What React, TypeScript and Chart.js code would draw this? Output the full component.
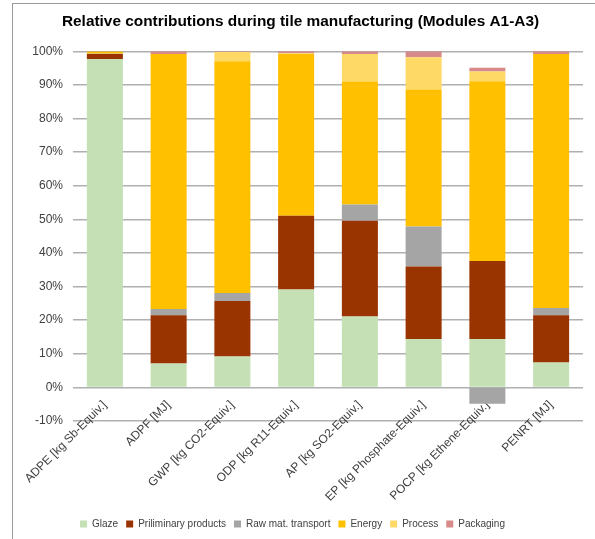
import React, { useEffect, useRef } from "react";
import { Chart, registerables } from "chart.js";

Chart.register(...registerables);

const categories = [
  "ADPE [kg Sb-Equiv.]",
  "ADPF [MJ]",
  "GWP [kg CO2-Equiv.]",
  "ODP [kg R11-Equiv.]",
  "AP [kg SO2-Equiv.]",
  "EP [kg Phosphate-Equiv.]",
  "POCP [kg Ethene-Equiv.]",
  "PENRT [MJ]",
];

const glaze = [97.7, 7.1, 9.2, 29.1, 21.1, 14.4, 14.4, 7.4];
const preliminary = [1.5, 14.4, 16.5, 22.0, 28.5, 21.6, 23.2, 14.1];
const rawTransport = [0.1, 1.8, 2.4, 0, 4.8, 11.9, -4.9, 2.1];
const energy = [0.6, 75.9, 68.9, 48.1, 36.6, 40.7, 53.5, 75.6];
const processShare = [0, 0, 2.8, 0.2, 8.2, 9.6, 2.9, 0];
const packaging = [0.1, 0.8, 0.2, 0.6, 0.8, 1.8, 1.1, 0.8];

const yTicks = [-10, 0, 10, 20, 30, 40, 50, 60, 70, 80, 90, 100];

const FONT = "'Liberation Sans', Arial, sans-serif";

const layoutTweaks = {
  id: "layoutTweaks",
  afterLayout(c: any) {
    if (c.legend) {
      c.legend.left -= 8;
      c.legend.right -= 8;
    }
  },
  beforeDraw(c: any) {
    if (c.scales && c.scales.x) c.scales.x._computeLabelArea = () => undefined;
  },
};

export default function App() {
  const ref = useRef<HTMLCanvasElement | null>(null);

  useEffect(() => {
    if (!ref.current) return;
    const mk = (label: string, data: number[], color: string) => ({
      label,
      data,
      backgroundColor: color,
      borderWidth: 0,
      categoryPercentage: 1,
      barPercentage: 0.565,
    });
    const chart = new Chart(ref.current, {
      type: "bar",
      data: {
        labels: categories,
        datasets: [
          mk("Glaze", glaze, "#C5E0B4"),
          mk("Priliminary products", preliminary, "#993300"),
          mk("Raw mat. transport", rawTransport, "#A5A5A5"),
          mk("Energy", energy, "#FFC000"),
          mk("Process", processShare, "#FFD966"),
          mk("Packaging", packaging, "#D78A89"),
        ],
      },
      plugins: [layoutTweaks],
      options: {
        animation: false,
        responsive: false,
        maintainAspectRatio: false,
        layout: { padding: { left: 18, right: 12, top: 0, bottom: 0 } },
        plugins: {
          title: {
            display: true,
            text: "Relative contributions during tile manufacturing (Modules A1-A3)",
            color: "#000000",
            font: { family: FONT, size: 15.4, weight: "bold" },
            padding: { top: 12.5, bottom: 20.3 },
          },
          legend: {
            position: "bottom",
            labels: {
              boxWidth: 7,
              boxHeight: 7,
              padding: 8,
              color: "#404040",
              font: { family: FONT, size: 10 },
            },
          },
          tooltip: { enabled: false },
        },
        scales: {
          x: {
            stacked: true,
            grid: { display: false },
            border: { display: false },
            ticks: {
              minRotation: 45,
              maxRotation: 45,
              autoSkip: false,
              padding: -31,
              color: "#404040",
              font: { family: FONT, size: 12 },
            },
            afterFit: (s: any) => {
              s.height = 90;
            },
          },
          y: {
            stacked: true,
            min: yTicks[0],
            max: yTicks[yTicks.length - 1],
            afterBuildTicks: (s: any) => {
              s.ticks = yTicks.map((v) => ({ value: v }));
            },
            grid: { color: "#B0B0B0", lineWidth: 1.4, drawTicks: false },
            border: { display: false },
            ticks: {
              padding: 10,
              color: "#404040",
              font: { family: FONT, size: 12 },
              callback: (v: any) => v + "%",
            },
            afterFit: (s: any) => {
              s.width = 55;
            },
          },
        },
      },
    });
    return () => chart.destroy();
  }, []);

  return (
    <div style={{ position: "fixed", left: 0, top: 0, width: 595, height: 539, background: "#fff" }}>
      <div
        style={{
          position: "absolute",
          left: 12,
          top: 3,
          right: -5,
          bottom: -5,
          borderLeft: "1px solid #9a9a9a",
          borderTop: "1px solid #9a9a9a",
        }}
      />
      <canvas ref={ref} width={595} height={539} style={{ position: "absolute", left: 0, top: 0, width: 595, height: 539 }} />
    </div>
  );
}
